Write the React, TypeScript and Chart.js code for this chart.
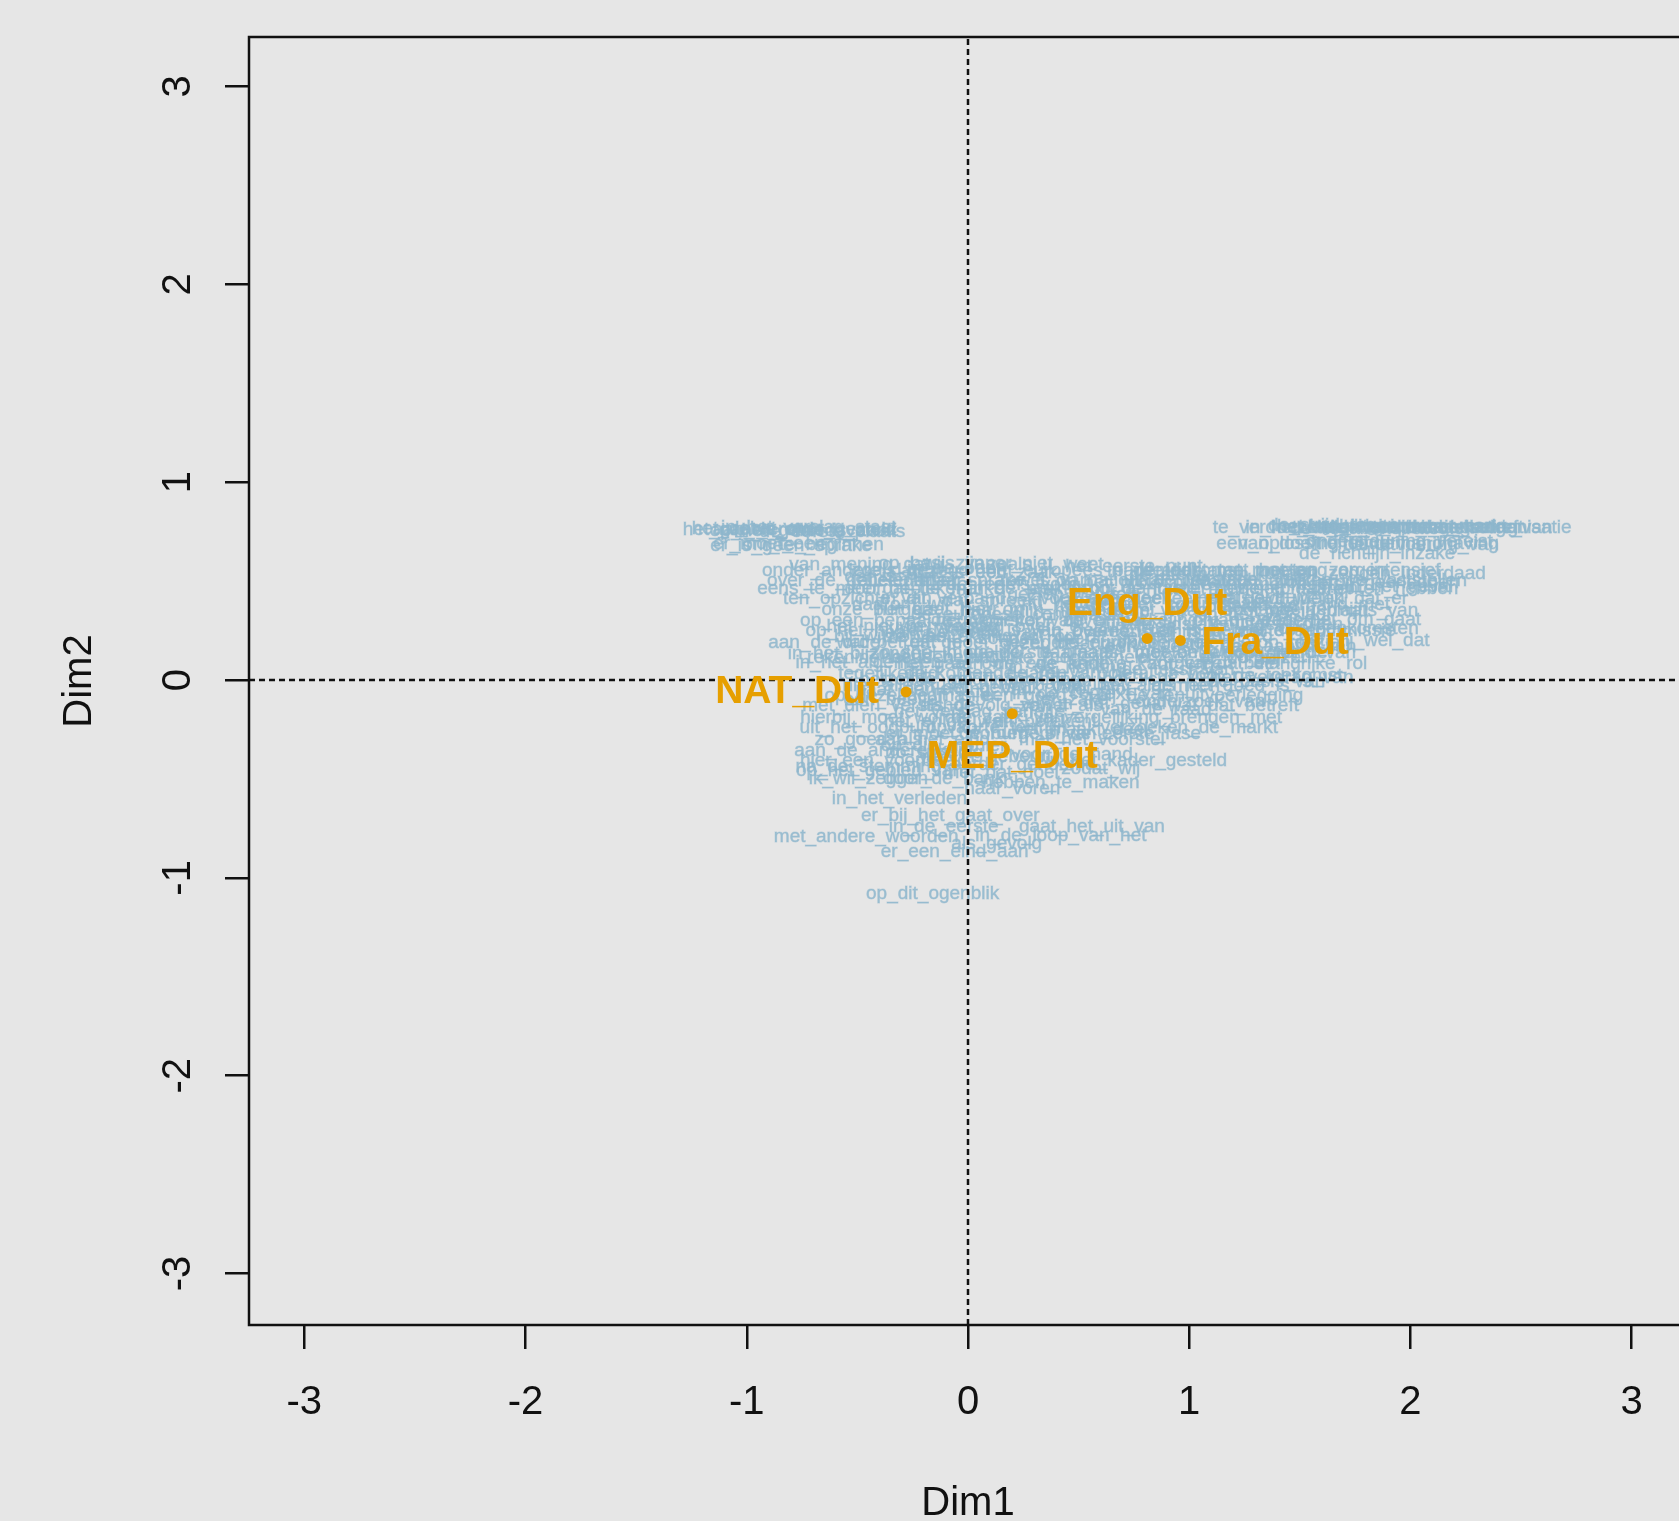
import React, { useEffect, useRef } from "react";
import { Chart, registerables } from "chart.js";

Chart.register(...registerables);

const FONT = '"Liberation Sans", Arial, Helvetica, sans-serif';
const BG = "#e6e6e6";
const ORANGE = "#E69F00";
const BLUE = "rgba(141,182,205,0.85)";

// axis settings
const xRange = [-3.25, 3.25];
const yRange = [-3.26, 3.25];
const xTicks = [-3, -2, -1, 0, 1, 2, 3];
const yTicks = [-3, -2, -1, 0, 1, 2, 3];
const xTitle = "Dim1";
const yTitle = "Dim2";

// row points (orange)
const rowNames = ["NAT_Dut", "MEP_Dut", "Eng_Dut", "Fra_Dut"];
const rowX = [-0.28, 0.2, 0.81, 0.96];
const rowY = [-0.06, -0.17, 0.21, 0.2];
const rowLabelPos = ["left", "bottom", "top", "right"];

// column labels (blue text)
const colNames = [
  "het_gaat_erom", "aan_de_orde_gesteld", "op_het_gebied_van", "in_de_eerste_plaats", "er_is_geen_sprake", "om_te_beginnen",
  "te_verdoezelen", "de_wereldhandelsorganisatie", "in_het_kader_van_de_begroting", "het_stabiliteitspact", "wat_de_commissie_betreft", "de_interne_markt",
  "van_doeltreffende_handhaving", "ondersteuning_vereist", "de_richtlijn_inzake",
  "van_mening_dat", "op_basis_van", "wij_zijn_er_niet",
  "onder_andere_dat", "zoals_gezegd", "dat_is_een_zaak", "het_europees_parlement", "in_de_toekomst_moeten", "de_lidstaten_moeten_zorgen", "met_het_oog_op_intensief", "kunnen_zeggen_inderdaad",
  "over_de_gehele_linie", "alleen_maar", "dat_er_sprake_is_van", "zowel_op_nationaal_niveau", "uit_de_verslagen_blijkt", "en_toch_moeten_we_vaststellen", "zich_erbij_neerleggen",
  "eens_te_meer_gebleken", "doordat_de_markt", "in_de_praktijk", "een_groot_aantal", "op_de_juiste_manier", "met_het_oog_daarop", "de_consumenten_hebben",
  "ten_opzichte_van", "in_dit_verband", "dat_spreekt_vanzelf", "voor_een_deel", "de_hoeveelheid_geld", "zoals_wij_weten", "het_is_duidelijk_dat_er",
  "onze_burgers", "het_gaat_hier_om", "naar_mijn_mening", "daar_komt_bij", "de_vraag_is_of_we", "op_lange_termijn", "in_plaats_van",
  "op_een_bepaalde_manier", "het_voorstel_van", "voor_zover_het", "de_ontwikkeling_van_de", "om_die_reden", "waar_het_om_gaat", "overeenkomsten",
  "op_het_niveau_van", "aan_de_hand_van", "het_is_van_belang", "in_overeenstemming_met", "er_is_behoefte_aan", "zal_de_commissie",
  "aan_de_orde", "wat_betreft_de", "dat_moet_gezegd", "heel_belangrijk", "de_europese_unie", "wij_moeten_erop_toezien", "het_zij_wel_dat",
  "in_het_bijzonder", "zo_snel_mogelijk", "in_de_eerste_plaats", "daarnaast_moeten_we", "met_betrekking_tot_de", "op_grond_van",
  "in_het_algemeen", "het_gaat_om", "aan_de_ene_kant", "de_andere_kant_van", "zorgen_dat_de", "een_belangrijke_rol",
  "tegelijkertijd", "de_komende_jaren", "de_rol_van_het", "ook_al_is_het", "voor_de_toekomst", "het_verdrag_van",
  "niet_alleen", "met_name_in", "over_het_algemeen", "als_het_goed_is",
  "op_dezelfde_manier", "dit_is_een_goed", "in_de_context_van", "bij_de_tenuitvoerlegging", "onderzoek_van",
  "met_dien_verstande", "als_gevolg_van", "zowel_als",
  "hierbij_moet_worden", "de_zaak_van", "in_vergelijking_brengen_met",
  "uit_het_oogpunt_van", "op_korte_termijn", "het_maakt_deel", "verzoeken_de_markt",
  "zo_goed_als", "aan_het_eind", "met_het_voorstel",
  "aan_de_andere_kant", "hier_een_voorbeeld", "wat_er_gebeurt", "voor_de_hand", "in_het_kader_gesteld",
  "op_het_gebied_van", "door_de_bank", "hebben_te_maken",
  "in_het_verleden", "er_bij_het_gaat_over", "in_de_eerste", "gaat_het_uit_van", "met_andere_woorden", "in_de_loop_van_het", "als_gevolg", "er_een_eind_aan", "op_dit_ogenblik",
  "gezien_het_feit", "de_heer_commissaris", "in_het_verslag", "de_europese_commissie", "met_betrekking_tot", "op_dit_gebied", "het_is_niet_zo",
  "de_mogelijkheid", "het_is_belangrijk", "ervoor_te_zorgen", "de_financiering", "in_het_licht", "naar_aanleiding_van", "ter_zake",
  "van_de_raad", "het_verslag_van", "de_burgers_van", "op_die_manier", "alle_lidstaten",
  "het_debat_over", "in_het_verslag_staat", "er_moet_een", "het_is_zaak", "de_strijd_tegen", "het_programma_voor", "in_het_kader_van", "de_lissabonstrategie", "een_oplossing_vinden", "de_uitvoering_van",
  "zoals_u_weet", "het_eerste_punt", "de_steun_van", "in_de_ogen", "dat_is_niet", "de_regels_voor", "het_protocol_van", "de_interne_regels", "in_het_geval",
  "daarom_wil_ik", "nu_het_geval", "het_beleid_van", "in_verband_met", "het_nieuwe_verdrag", "het_verslag_over", "er_zijn_twee", "uitgesproken",
  "bij_wijze_van", "zonder_meer", "een_kwestie_van", "een_aantal_van", "rekening_houden_met", "in_de_richting", "de_tekst_van", "er_op_wijzen",
  "hetzelfde_geldt", "het_gebruik_van", "tot_slot", "de_basis_van", "een_beetje", "in_feite", "in_dat_geval", "wat_dat_betreft",
  "het_enige_wat", "dit_betekent", "in_de_eerste_fase", "er_moet_worden", "zo_spoedig", "eerder_genoemd", "zodat_wij", "na_de_stemming", "met_dat_doel",
  "ik_wil_zeggen", "naar_voren",
];
const colX = [
  -1.0, -0.74, -0.79, -0.67, -0.8, -0.7,
  1.4, 2.17, 1.87, 1.75, 2.0, 2.1,
  1.81, 1.95, 1.85,
  -0.49, -0.14, 0.09,
  -0.58, -0.26, 0.08, 0.56, 1.1, 1.34, 1.63, 1.82,
  -0.5, -0.26, 0.13, 0.66, 1.14, 1.63, 1.8,
  -0.48, -0.21, 0.27, 0.61, 0.95, 1.34, 1.72,
  -0.5, -0.11, 0.27, 0.61, 1.0, 1.39, 1.55,
  -0.4, -0.07, 0.32, 0.71, 1.1, 1.48, 1.77,
  -0.26, 0.18, 0.51, 0.9, 1.29, 1.68, 1.72,
  -0.36, -0.02, 0.37, 0.85, 1.24, 1.58,
  -0.65, -0.31, 0.08, 0.47, 0.76, 1.24, 1.79,
  -0.5, -0.11, 0.27, 0.76, 1.19, 1.48,
  -0.45, -0.07, 0.27, 0.71, 1.1, 1.43,
  -0.36, 0.08, 0.47, 0.85, 1.34, 1.42,
  -0.36, 0.37, 0.76, 1.14,
  -0.26, 0.13, 0.56, 1.05, 1.05,
  -0.36, 0.08, 0.42,
  -0.36, 0.18, 0.87,
  -0.36, 0.13, 0.51, 1.0,
  -0.45, -0.16, 0.56,
  -0.38, -0.38, 0.08, 0.47, 0.76,
  -0.4, -0.11, 0.42,
  -0.31, -0.08, -0.11, 0.56, -0.46, 0.42, 0.13, -0.06, -0.16,
  0.47, 0.95, 1.34, 0.22, -0.02, 0.66, 1.1,
  0.51, -0.07, 1.1, 0.22, 0.71, -0.11, 0.47,
  0.85, -0.02, 0.27, -0.11, 0.95,
  -0.95, -0.72, -0.9, -0.55, 1.65, 1.95, 2.3, 1.85, 1.55, 2.05,
  0.35, 0.75, 1.0, -0.05, -0.35, 0.2, 0.85, 1.35, 1.95,
  -0.25, 0.5, 1.2, 1.6, -0.25, 0.05, 0.7, 1.45,
  -0.35, 0.3, 0.95, 1.45, -0.3, 0.45, 0.95, 1.3,
  -0.2, 0.2, 0.6, 1.35, -0.35, 0.3, 0.65, 1.2,
  -0.1, 0.35, 0.7, -0.05, -0.15, 0.25, 0.6, -0.45, 0.15,
  -0.45, 0.2,
];
const colY = [
  0.76, 0.76, 0.755, 0.75, 0.68, 0.685,
  0.77, 0.77, 0.77, 0.775, 0.77, 0.775,
  0.69, 0.7, 0.64,
  0.58, 0.59, 0.59,
  0.55, 0.55, 0.54, 0.55, 0.55, 0.55, 0.55, 0.535,
  0.5, 0.5, 0.5, 0.5, 0.505, 0.5, 0.49,
  0.46, 0.46, 0.46, 0.46, 0.46, 0.46, 0.46,
  0.41, 0.41, 0.4, 0.41, 0.41, 0.41, 0.41,
  0.355, 0.355, 0.35, 0.35, 0.35, 0.355, 0.35,
  0.3, 0.3, 0.3, 0.3, 0.3, 0.305, 0.26,
  0.25, 0.24, 0.25, 0.245, 0.25, 0.25,
  0.19, 0.19, 0.19, 0.185, 0.19, 0.19, 0.2,
  0.135, 0.14, 0.14, 0.14, 0.14, 0.14,
  0.085, 0.08, 0.08, 0.08, 0.08, 0.08,
  0.03, 0.03, 0.03, 0.03, 0.02, 0.01,
  -0.03, -0.02, -0.03, -0.03,
  -0.08, -0.08, -0.07, -0.08, -0.11,
  -0.13, -0.13, -0.13,
  -0.19, -0.19, -0.19,
  -0.24, -0.24, -0.25, -0.24,
  -0.3, -0.3, -0.3,
  -0.36, -0.41, -0.39, -0.38, -0.41,
  -0.46, -0.5, -0.52,
  -0.6, -0.685, -0.74, -0.74, -0.79, -0.785, -0.83, -0.87, -1.08,
  0.43, 0.38, 0.33, 0.33, 0.22, 0.22, 0.22,
  0.11, 0.11, 0.11, 0.0, 0.0, -0.05, -0.1,
  -0.15, -0.16, -0.27, -0.33, 0.28,
  0.765, 0.77, 0.69, 0.755, 0.78, 0.775, 0.77, 0.765, 0.69, 0.685,
  0.58, 0.57, 0.53, 0.56, 0.52, 0.48, 0.49, 0.48, 0.47,
  0.38, 0.38, 0.37, 0.38, 0.27, 0.27, 0.27, 0.28,
  0.22, 0.21, 0.17, 0.17, 0.11, 0.06, 0.05, 0.11,
  0.0, -0.04, -0.05, -0.01, -0.1, -0.16, -0.12, -0.13,
  -0.21, -0.21, -0.27, -0.27, -0.37, -0.43, -0.45, -0.44, -0.47,
  -0.5, -0.55,
];

const labelPlugin = {
  id: "caLabels",
  beforeDraw(chart: any) {
    const { ctx, width, height } = chart;
    ctx.save();
    ctx.fillStyle = BG;
    ctx.fillRect(0, 0, width, height);
    ctx.restore();
  },
  beforeDatasetsDraw(chart: any) {
    const { ctx, chartArea } = chart;
    ctx.save();
    ctx.font = `19px ${FONT}`;
    ctx.fillStyle = BLUE;
    ctx.strokeStyle = "rgba(141,182,205,0.45)";
    ctx.lineWidth = 0.8;
    ctx.textAlign = "center";
    ctx.textBaseline = "middle";
    const meta = chart.getDatasetMeta(0);
    meta.data.forEach((el: any, i: number) => {
      ctx.strokeText(colNames[i], el.x, el.y);
      ctx.fillText(colNames[i], el.x, el.y);
    });
    ctx.strokeStyle = "#111";
    ctx.lineWidth = 2.5;
    ctx.strokeRect(chartArea.left, chartArea.top, chartArea.right - chartArea.left, chartArea.bottom - chartArea.top);
    ctx.restore();
  },
  afterDatasetsDraw(chart: any) {
    const { ctx } = chart;
    ctx.save();
    ctx.font = `bold 39px ${FONT}`;
    ctx.fillStyle = ORANGE;
    ctx.textBaseline = "middle";
    const meta = chart.getDatasetMeta(3);
    meta.data.forEach((el: any, i: number) => {
      const pos = rowLabelPos[i];
      let x = el.x;
      let y = el.y;
      if (pos === "left") { ctx.textAlign = "right"; x -= 27; }
      else if (pos === "right") { ctx.textAlign = "left"; x += 21; y += 3; }
      else if (pos === "top") { ctx.textAlign = "center"; y -= 34; }
      else { ctx.textAlign = "center"; y += 44; }
      ctx.fillText(rowNames[i], x, y);
    });
    ctx.restore();
  },
};

export default function App() {
  const ref = useRef<HTMLCanvasElement | null>(null);
  useEffect(() => {
    if (!ref.current) return;
    const dash = [6, 4];
    const chart = new Chart(ref.current, {
      type: "scatter",
      data: {
        datasets: [
          {
            label: "cols",
            data: colX.map((x, i) => ({ x, y: colY[i] })),
            pointRadius: 0,
            order: 3,
          } as any,
          {
            label: "h0",
            data: [{ x: xRange[0], y: 0 }, { x: xRange[1], y: 0 }],
            showLine: true,
            borderColor: "#111",
            borderWidth: 2.5,
            borderDash: dash,
            pointRadius: 0,
            order: 2,
          },
          {
            label: "v0",
            data: [{ x: 0, y: yRange[0] }, { x: 0, y: yRange[1] }],
            showLine: true,
            borderColor: "#111",
            borderWidth: 2.5,
            borderDash: dash,
            pointRadius: 0,
            order: 2,
          },
          {
            label: "rows",
            data: rowX.map((x, i) => ({ x, y: rowY[i] })),
            pointRadius: 5.5,
            pointBackgroundColor: ORANGE,
            pointBorderWidth: 0,
            backgroundColor: ORANGE,
            borderColor: ORANGE,
            order: 0,
          },
        ],
      },
      options: {
        responsive: false,
        animation: false,
        events: [],
        layout: { padding: { left: 0, top: 37, right: 13, bottom: 0 } },
        plugins: { legend: { display: false }, tooltip: { enabled: false } },
        scales: {
          x: {
            type: "linear",
            position: "bottom",
            min: xRange[0],
            max: xRange[1],
            afterBuildTicks: (s: any) => { s.ticks = xTicks.map((v) => ({ value: v })); },
            afterFit: (s: any) => { s.height = 196; s.paddingLeft = 0; s.paddingRight = 0; },
            grid: { drawOnChartArea: false, drawTicks: true, tickLength: 24, color: "#111", lineWidth: 2.5 },
            border: { display: false },
            ticks: { font: { size: 40, family: FONT }, color: "#111", padding: 30, maxRotation: 0, autoSkip: false },
            title: { display: true, text: xTitle, color: "#111", font: { size: 40, family: FONT, lineHeight: 1 }, padding: { top: 0, bottom: -3 } },
          },
          y: {
            type: "linear",
            position: "left",
            min: yRange[0],
            max: yRange[1],
            afterBuildTicks: (s: any) => { s.ticks = yTicks.map((v) => ({ value: v })); },
            afterFit: (s: any) => { s.width = 249; s.paddingTop = 0; s.paddingBottom = 0; },
            grid: { drawOnChartArea: false, drawTicks: true, tickLength: 24, color: "#111", lineWidth: 2.5 },
            border: { display: false },
            ticks: { font: { size: 40, family: FONT }, color: "#111", padding: 28, minRotation: 90, maxRotation: 90, crossAlign: "center", autoSkip: false },
            title: { display: true, text: yTitle, color: "#111", font: { size: 40, family: FONT, lineHeight: 1 }, padding: { top: 60, bottom: 0 } },
          },
        },
      },
      plugins: [labelPlugin],
    });
    return () => chart.destroy();
  }, []);
  return (
    <div style={{ position: "absolute", left: 0, top: 0, width: 1679, height: 1521, overflow: "hidden", background: BG }}>
      <canvas ref={ref} width={1700} height={1521} style={{ display: "block" }} />
    </div>
  );
}
